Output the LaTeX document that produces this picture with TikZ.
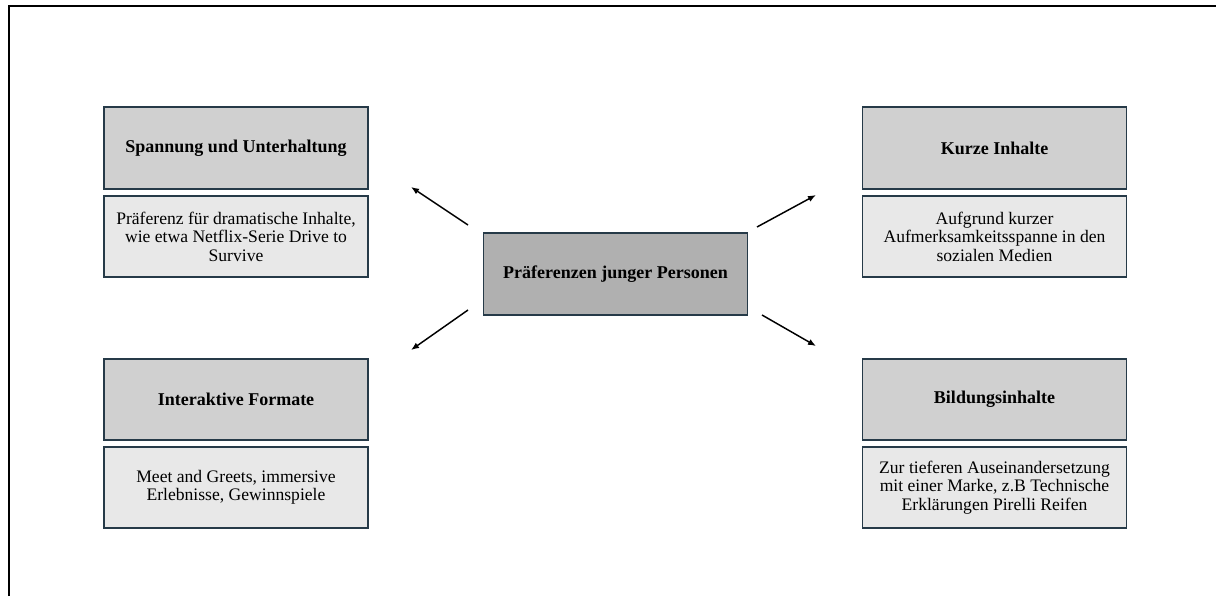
\documentclass[tikz,border=0pt]{standalone}
\usepackage{fontspec}
\setmainfont{Liberation Serif}
\usetikzlibrary{arrows.meta}
\definecolor{boxline}{HTML}{263A48}
\definecolor{headfill}{HTML}{D0D0D0}
\definecolor{descfill}{HTML}{E8E8E8}
\definecolor{corefill}{HTML}{B0B0B0}
\tikzset{
  basebox/.style={draw=boxline, line width=1.3pt, rectangle, inner sep=0pt,
    minimum width=198pt, minimum height=61pt, align=center,
    font=\fontsize{13.2}{13.8}\selectfont},
  headbox/.style={basebox, fill=headfill, font=\fontsize{13.5}{15}\selectfont\bfseries},
  descbox/.style={basebox, fill=descfill},
  corebox/.style={basebox, fill=corefill, font=\fontsize{13.5}{15}\selectfont\bfseries},
  linkarrow/.style={line width=1.1pt, -{Latex[length=6pt,width=4.8pt]}},
  framerule/.style={line width=1.5pt, black}
}
\begin{document}
\begin{tikzpicture}[x=0.75pt,y=-0.75pt]
  \useasboundingbox (0,0) rectangle (1216,596);
  % open frame: top and left edges
  \draw[framerule] (9,596) -- (9,6) -- (1216,6);

  % central topic
  \node[corebox] (core) at (615.5,274) {Präferenzen junger Personen};

  % upper left
  \node[headbox] (spannung) at (236,148) {Spannung und Unterhaltung};
  \node[descbox] (spannungtxt) at (236,236.5)
    {Präferenz für dramatische Inhalte,\\wie etwa Netflix-Serie Drive to\\Survive};

  % upper right
  \node[headbox] (kurz) at (994.5,148) {Kurze Inhalte};
  \node[descbox] (kurztxt) at (994.5,236.5)
    {Aufgrund kurzer\\Aufmerksamkeitsspanne in den\\sozialen Medien};

  % lower left
  \node[headbox] (interaktiv) at (236,399.5) {Interaktive Formate};
  \node[descbox] (interaktivtxt) at (236,487.5)
    {Meet and Greets, immersive\\Erlebnisse, Gewinnspiele};

  % lower right
  \node[headbox] (bildung) at (994.5,399.5) {Bildungsinhalte};
  \node[descbox] (bildungtxt) at (994.5,487.5)
    {Zur tieferen Auseinandersetzung\\mit einer Marke, z.B Technische\\Erklärungen Pirelli Reifen};

  % arrow ends
  \coordinate (ulS) at (468,225);
  \coordinate (ulE) at (411,187);
  \coordinate (urS) at (757,227);
  \coordinate (urE) at (816,195);
  \coordinate (llS) at (468,310);
  \coordinate (llE) at (411,350);
  \coordinate (lrS) at (762,315);
  \coordinate (lrE) at (816,346);

  \draw[linkarrow] (ulS) -- (ulE);
  \draw[linkarrow] (urS) -- (urE);
  \draw[linkarrow] (llS) -- (llE);
  \draw[linkarrow] (lrS) -- (lrE);
\end{tikzpicture}
\end{document}
